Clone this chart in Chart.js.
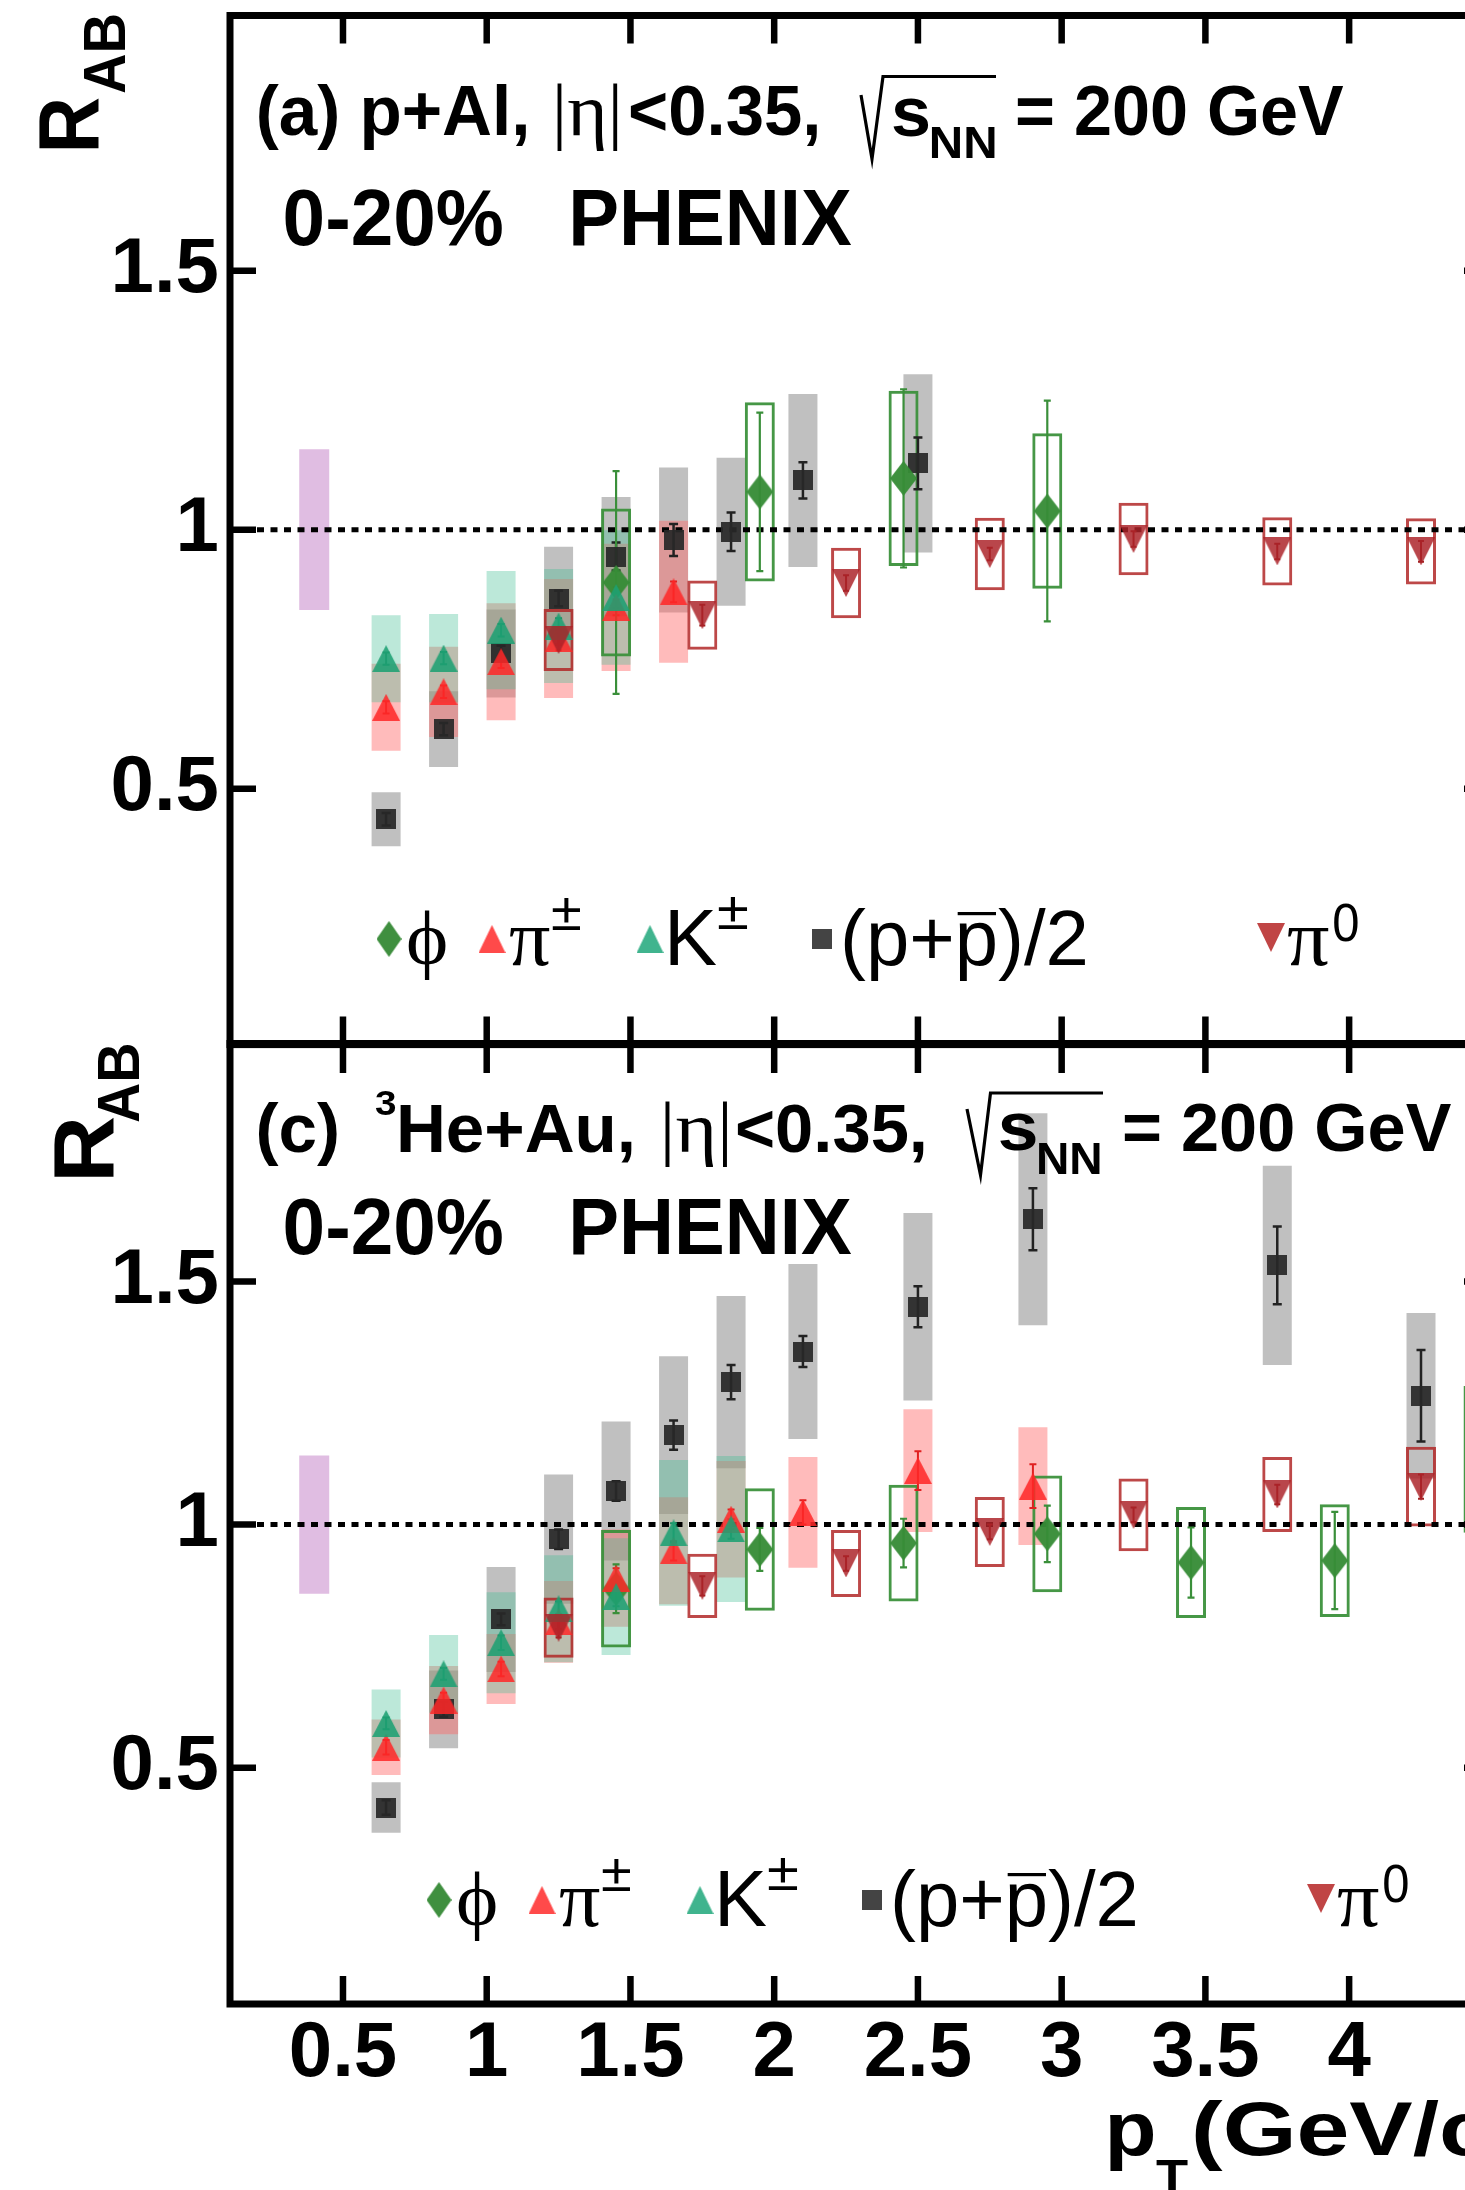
<!DOCTYPE html>
<html><head><meta charset="utf-8">
<script src="https://cdn.jsdelivr.net/npm/chart.js@4.4.1/dist/chart.umd.min.js"></script>
<style>
html,body{margin:0;padding:0;background:#fff;overflow:hidden;}
#wrap{position:relative;width:1465px;height:2190px;overflow:hidden;background:#fff;}
canvas{position:absolute;left:0;}
#c1{top:0;} #c2{top:1040px;}
</style></head><body>
<div id="wrap"><canvas id="c1" width="1500" height="1050"></canvas><canvas id="c2" width="1500" height="1150"></canvas></div>
<script>
// ---------- axis ticks ----------
const xTicks = [0.5, 1, 1.5, 2, 2.5, 3, 3.5, 4];
const xTickLabels = ['0.5', '1', '1.5', '2', '2.5', '3', '3.5', '4'];
const yTicks = [0.5, 1, 1.5];
const yTickLabels = ['0.5', '1', '1.5'];

// ---------- panel (a) p+Al ----------
const normA_x = [0.4];
const normA_y = [1.0];
const normA_sys = [0.155];

const phiA_x = [1.45, 1.95, 2.45, 2.95];
const phiA_y = [0.898, 1.073, 1.099, 1.036];
const phiA_stat = [0.215, 0.153, 0.172, 0.213];
const phiA_sys = [0.143, 0.173, 0.169, 0.15];

const pipmA_x = [0.65, 0.85, 1.05, 1.25, 1.45, 1.65];
const pipmA_y = [0.657, 0.687, 0.745, 0.79, 0.85, 0.88];
const pipmA_stat = [0.012, 0.012, 0.012, 0.012, 0.015, 0.02];
const pipmA_sys = [0.084, 0.087, 0.113, 0.115, 0.123, 0.137];

const kA_x = [0.65, 0.85, 1.05, 1.25, 1.45];
const kA_y = [0.751, 0.752, 0.806, 0.814, 0.869];
const kA_stat = [0.012, 0.012, 0.012, 0.015, 0.02];
const kA_sys = [0.084, 0.085, 0.114, 0.11, 0.13];

const pA_x = [0.65, 0.85, 1.05, 1.25, 1.45, 1.65, 1.85, 2.1, 2.5];
const pA_y = [0.441, 0.615, 0.761, 0.867, 0.948, 0.98, 0.996, 1.095, 1.128];
const pA_stat = [0.012, 0.012, 0.015, 0.015, 0.027, 0.031, 0.037, 0.035, 0.05];
const pA_sys = [0.052, 0.073, 0.085, 0.10, 0.115, 0.14, 0.143, 0.167, 0.172];

const pi0A_x = [1.25, 1.75, 2.25, 2.75, 3.25, 3.75, 4.25];
const pi0A_y = [0.787, 0.835, 0.897, 0.953, 0.982, 0.958, 0.958];
const pi0A_stat = [0.02, 0.02, 0.015, 0.012, 0.015, 0.015, 0.02];
const pi0A_sys = [0.06, 0.067, 0.068, 0.07, 0.07, 0.066, 0.064];

// ---------- panel (c) 3He+Au ----------
const normC_x = [0.4];
const normC_y = [1.0];
const normC_sys = [0.142];

const phiC_x = [1.45, 1.95, 2.45, 2.95, 3.45, 3.95, 4.45];
const phiC_y = [0.868, 0.949, 0.962, 0.981, 0.922, 0.926, 1.134];
const phiC_stat = [0.05, 0.044, 0.05, 0.058, 0.072, 0.1, 0.12];
const phiC_sys = [0.121, 0.126, 0.12, 0.12, 0.114, 0.116, 0.151];

const pipmC_x = [0.65, 0.85, 1.05, 1.25, 1.45, 1.65, 1.85, 2.1, 2.5, 2.9];
const pipmC_y = [0.542, 0.639, 0.703, 0.80, 0.89, 0.946, 1.011, 1.025, 1.111, 1.079];
const pipmC_stat = [0.015, 0.015, 0.015, 0.015, 0.02, 0.02, 0.02, 0.025, 0.04, 0.045];
const pipmC_sys = [0.057, 0.07, 0.072, 0.084, 0.1, 0.11, 0.12, 0.114, 0.126, 0.121];

const kC_x = [0.65, 0.85, 1.05, 1.25, 1.45, 1.65, 1.85];
const kC_y = [0.591, 0.693, 0.757, 0.827, 0.852, 0.983, 0.991];
const kC_stat = [0.012, 0.012, 0.015, 0.015, 0.02, 0.02, 0.02];
const kC_sys = [0.07, 0.08, 0.104, 0.11, 0.12, 0.15, 0.15];

const pC_x = [0.65, 0.85, 1.05, 1.25, 1.45, 1.65, 1.85, 2.1, 2.5, 2.9, 3.75, 4.25];
const pC_y = [0.418, 0.62, 0.805, 0.97, 1.069, 1.184, 1.293, 1.356, 1.448, 1.628, 1.533, 1.265];
const pC_stat = [0.015, 0.015, 0.012, 0.02, 0.02, 0.03, 0.035, 0.032, 0.042, 0.064, 0.08, 0.094];
const pC_sys = [0.052, 0.08, 0.108, 0.133, 0.143, 0.162, 0.177, 0.18, 0.193, 0.218, 0.205, 0.17];

const pi0C_x = [1.25, 1.75, 2.25, 2.75, 3.25, 3.75, 4.25];
const pi0C_y = [0.788, 0.874, 0.92, 0.985, 1.02, 1.062, 1.078];
const pi0C_stat = [0.02, 0.02, 0.015, 0.015, 0.015, 0.02, 0.025];
const pi0C_sys = [0.062, 0.066, 0.069, 0.072, 0.075, 0.077, 0.082];

// ---------- styles ----------
const SANS = "'Liberation Sans', Arial, Helvetica, sans-serif";
const SERIF = "'Liberation Serif', 'DejaVu Serif', 'Times New Roman', serif";
const COL = {
  norm: '#e0bde2',
  pBox: 'rgba(135,135,135,0.52)',
  pipmBox: 'rgba(255,105,105,0.45)',
  kBox: 'rgba(70,190,150,0.36)',
  pi0Box: 'rgba(178,40,40,0.85)',
  phiBox: 'rgba(60,145,60,0.95)',
  p: 'rgba(40,40,40,0.93)',
  phi: 'rgba(55,140,55,0.96)',
  pipm: 'rgba(255,40,40,0.86)',
  k: 'rgba(30,160,115,0.88)',
  pi0: 'rgba(172,35,40,0.84)'
};

function mk(w, h, color, path) {
  const c = document.createElement('canvas'); c.width = w; c.height = h;
  const g = c.getContext('2d'); g.fillStyle = color; g.beginPath(); path(g, w, h); g.closePath(); g.fill();
  return c;
}
const diamondPath = (g, w, h) => { g.moveTo(w / 2, 0); g.lineTo(w, h / 2); g.lineTo(w / 2, h); g.lineTo(0, h / 2); };
const upPath = (g, w, h) => { g.moveTo(w / 2, 0); g.lineTo(w, h); g.lineTo(0, h); };
const downPath = (g, w, h) => { g.moveTo(0, 0); g.lineTo(w, 0); g.lineTo(w / 2, h); };
const sqPath = (g, w, h) => { g.rect(0, 0, w, h); };

const IMG = {
  phi: mk(27, 35, COL.phi, diamondPath),
  pipm: mk(28, 27, COL.pipm, upPath),
  k: mk(28, 27, COL.k, upPath),
  pi0: mk(28, 28, COL.pi0, downPath),
  p: mk(20, 20, COL.p, sqPath)
};
const LEG = {
  phi: mk(25, 36, '#3f8f3f', diamondPath),
  pipm: mk(27, 28, '#ff4a4a', upPath),
  k: mk(27, 28, '#40b48e', upPath),
  pi0: mk(28, 29, '#c04545', downPath),
  p: mk(20, 20, '#444444', sqPath)
};

const boxes = (xs, ys, s) => xs.map((x, i) => ({ x: x, y: [ys[i] - s[i], ys[i] + s[i]] }));
const pts = (xs, ys) => xs.map((x, i) => ({ x: x, y: ys[i] }));

function fillBox(data, color, order, thick) {
  return { type: 'bar', data: data, backgroundColor: color, borderWidth: 0, barThickness: thick || 29, grouped: false, order: order, inflateAmount: 0 };
}
function openBox(data, color, order) {
  return { type: 'bar', data: data, backgroundColor: 'rgba(0,0,0,0)', borderColor: color, borderWidth: 3, borderSkipped: false, barThickness: 30, grouped: false, order: order, inflateAmount: 0 };
}
function marks(data, img, order, extra) {
  return Object.assign({ type: 'scatter', data: data, pointStyle: img, pointRadius: 10, pointHoverRadius: 10, showLine: false, order: order }, extra || {});
}

// ---------- text helpers ----------
function fitH(ctx, txt, font, x0, x1, base, color) {
  ctx.save(); ctx.font = font; ctx.fillStyle = color || '#000';
  ctx.textAlign = 'left'; ctx.textBaseline = 'alphabetic';
  const m = ctx.measureText(txt);
  const ink = m.actualBoundingBoxLeft + m.actualBoundingBoxRight;
  const sx = (x1 - x0) / ink;
  const ox = x0 + m.actualBoundingBoxLeft * sx;
  ctx.translate(ox, base); ctx.scale(sx, 1); ctx.fillText(txt, 0, 0); ctx.restore();
  return { sx: sx, ox: ox };
}
function scaledText(ctx, txt, font, x0, base, sx) {
  ctx.save(); ctx.font = font; ctx.fillStyle = '#000'; ctx.textAlign = 'left'; ctx.textBaseline = 'alphabetic';
  ctx.translate(x0, base); ctx.scale(sx, 1); ctx.fillText(txt, 0, 0); ctx.restore();
}
function fitV(ctx, txt, font, yBottom, yTop, baseX) {
  ctx.save(); ctx.font = font; ctx.fillStyle = '#000'; ctx.textAlign = 'left'; ctx.textBaseline = 'alphabetic';
  const m = ctx.measureText(txt);
  const ink = m.actualBoundingBoxLeft + m.actualBoundingBoxRight;
  const sx = (yBottom - yTop) / ink;
  ctx.translate(baseX, yBottom); ctx.rotate(-Math.PI / 2);
  ctx.translate(m.actualBoundingBoxLeft * sx, 0); ctx.scale(sx, 1); ctx.fillText(txt, 0, 0); ctx.restore();
}
function poly(ctx, ptsArr, lw) {
  ctx.save(); ctx.strokeStyle = '#000'; ctx.lineWidth = lw; ctx.lineJoin = 'miter';
  ctx.beginPath(); ptsArr.forEach((p, i) => i ? ctx.lineTo(p[0], p[1]) : ctx.moveTo(p[0], p[1])); ctx.stroke(); ctx.restore();
}

function drawLegend(ctx, dx, dy) {
  const img = (im, x, y) => ctx.drawImage(im, x + dx - im.width / 2, y + dy - im.height / 2);
  img(LEG.phi, 389, 939);
  fitH(ctx, '\u03D5', '76px ' + SERIF, 408 + dx, 446 + dx, 964 + dy);
  img(LEG.pipm, 492, 939);
  fitH(ctx, '\u03C0', '80px ' + SERIF, 510 + dx, 550 + dx, 965 + dy);
  fitH(ctx, '\u00B1', '54px ' + SANS, 552 + dx, 580 + dx, 930 + dy);
  img(LEG.k, 650, 939);
  fitH(ctx, 'K', '80px ' + SANS, 670 + dx, 716.7 + dx, 965 + dy);
  fitH(ctx, '\u00B1', '54px ' + SANS, 718 + dx, 747 + dx, 929 + dy);
  img(LEG.p, 822, 938.5);
  const r = fitH(ctx, '(p+p)/2', '77px ' + SANS, 844 + dx, 1085 + dx, 965 + dy);
  ctx.save(); ctx.font = '77px ' + SANS;
  const w1 = ctx.measureText('(p+').width * r.sx, wp = ctx.measureText('p').width * r.sx;
  ctx.fillStyle = '#000'; ctx.fillRect(r.ox + w1 + 3, 912 + dy, wp - 5, 3.2); ctx.restore();
  img(LEG.pi0, 1271, 937.5);
  fitH(ctx, '\u03C0', '80px ' + SERIF, 1288 + dx, 1329 + dx, 965 + dy);
  fitH(ctx, '0', '54px ' + SANS, 1334 + dx, 1357.6 + dx, 941 + dy);
}

// ---------- plugins ----------
function makePlugins(P) {
  return [{
    id: 'errs_' + P.id,
    beforeDatasetDraw(chart, args) {
      const ds = chart.data.datasets[args.index];
      if (!ds.errFirst) return;
      const ctx = chart.ctx, a = chart.chartArea, X = chart.scales.x, Y = chart.scales.y;
      ctx.save();
      ctx.beginPath(); ctx.rect(a.left, a.top, a.right - a.left, a.bottom - a.top); ctx.clip();
      // reference line at R_AB = 1
      const py = Y.getPixelForValue(1);
      ctx.setLineDash([7, 6.5]); ctx.lineWidth = 5; ctx.strokeStyle = '#000';
      ctx.beginPath(); ctx.moveTo(a.left, py); ctx.lineTo(a.right, py); ctx.stroke();
      ctx.setLineDash([]);
      P.errs.forEach(s => {
        ctx.strokeStyle = s.color; ctx.lineWidth = s.lw;
        s.x.forEach((xv, i) => {
          const px = X.getPixelForValue(xv);
          const y0 = Y.getPixelForValue(s.y[i] - s.e[i]), y1 = Y.getPixelForValue(s.y[i] + s.e[i]);
          ctx.beginPath();
          ctx.moveTo(px, y0); ctx.lineTo(px, y1);
          ctx.moveTo(px - s.cap / 2, y0); ctx.lineTo(px + s.cap / 2, y0);
          ctx.moveTo(px - s.cap / 2, y1); ctx.lineTo(px + s.cap / 2, y1);
          ctx.stroke();
        });
      });
      ctx.restore();
    },
    afterDraw(chart) {
      const ctx = chart.ctx, a = chart.chartArea, X = chart.scales.x, Y = chart.scales.y;
      ctx.save();
      ctx.strokeStyle = '#000'; ctx.lineWidth = 7;
      ctx.strokeRect(a.left, a.top, a.right - a.left, a.bottom - a.top);
      ctx.lineWidth = 6.5; ctx.beginPath();
      xTicks.forEach(v => {
        const px = X.getPixelForValue(v);
        ctx.moveTo(px, a.bottom); ctx.lineTo(px, a.bottom - 28);
        ctx.moveTo(px, a.top); ctx.lineTo(px, a.top + P.topTick);
      });
      yTicks.forEach(v => {
        const py = Y.getPixelForValue(v);
        ctx.moveTo(a.left, py); ctx.lineTo(a.left + 26, py);
        ctx.moveTo(a.right, py); ctx.lineTo(a.right - 26, py);
      });
      ctx.stroke();
      ctx.restore();
      ctx.save(); ctx.translate(0, -P.offY);
      P.text(ctx);
      ctx.restore();
    }
  }];
}

function noPad(s) { s.paddingTop = 0; s.paddingBottom = 0; s.paddingLeft = 0; s.paddingRight = 0; }

function makeChart(id, P) {
  const datasets = [
    fillBox(boxes(P.norm.x, P.norm.y, P.norm.sys), COL.norm, 20, 30),
    fillBox(boxes(P.p.x, P.p.y, P.p.sys), COL.pBox, 16),
    fillBox(boxes(P.pipm.x, P.pipm.y, P.pipm.sys), COL.pipmBox, 15),
    fillBox(boxes(P.k.x, P.k.y, P.k.sys), COL.kBox, 14),
    openBox(boxes(P.pi0.x, P.pi0.y, P.pi0.sys), COL.pi0Box, 12),
    openBox(boxes(P.phi.x, P.phi.y, P.phi.sys), COL.phiBox, 11),
    marks(pts(P.p.x, P.p.y), IMG.p, 6, { errFirst: true }),
    marks(pts(P.phi.x, P.phi.y), IMG.phi, 5),
    marks(pts(P.pipm.x, P.pipm.y), IMG.pipm, 4),
    marks(pts(P.k.x, P.k.y), IMG.k, 3),
    marks(pts(P.pi0.x, P.pi0.y), IMG.pi0, 1)
  ];
  P.errs = [
    { x: P.pipm.x, y: P.pipm.y, e: P.pipm.stat, color: '#e02020', lw: 2, cap: 7 },
    { x: P.k.x, y: P.k.y, e: P.k.stat, color: '#1a8a60', lw: 2, cap: 7 },
    { x: P.p.x, y: P.p.y, e: P.p.stat, color: '#222', lw: 2.5, cap: 9 },
    { x: P.phi.x, y: P.phi.y, e: P.phi.stat, color: '#3a8f3a', lw: 2.2, cap: 7 },
    { x: P.pi0.x, y: P.pi0.y, e: P.pi0.stat, color: '#a02020', lw: 2, cap: 6 }
  ];
  const tickFont = { family: SANS, size: 78, weight: 'bold' };
  return new Chart(document.getElementById(id), {
    type: 'scatter',
    data: { datasets: datasets },
    options: {
      responsive: false, animation: false, events: [],
      layout: { autoPadding: false, padding: { left: 0, right: 10, top: P.padTop, bottom: 0 } },
      plugins: { legend: { display: false }, tooltip: { enabled: false } },
      scales: {
        x: {
          type: 'linear', min: 0.107, max: 4.49, offset: false,
          grid: { display: false, drawTicks: false, offset: false }, border: { display: false },
          afterBuildTicks: s => { s.ticks = xTicks.map(v => ({ value: v })); },
          ticks: { display: P.showX, font: tickFont, color: '#000', padding: 4, maxRotation: 0, autoSkip: false,
                   callback: (v, i) => xTickLabels[i] },
          afterFit: s => { s.height = P.xAxisH; noPad(s); }
        },
        y: {
          type: 'linear', min: P.ymin, max: P.ymax,
          grid: { display: false, drawTicks: false }, border: { display: false },
          afterBuildTicks: s => { s.ticks = yTicks.map(v => ({ value: v })); },
          ticks: { font: tickFont, color: '#000', padding: 11, autoSkip: false, callback: (v, i) => yTickLabels[i] },
          afterFit: s => { s.width = 230; noPad(s); }
        }
      }
    },
    plugins: makePlugins(P)
  });
}

// ---------- panel texts ----------
function textA(ctx) {
  fitV(ctx, 'R', 'bold 86px ' + SANS, 149, 98, 98);
  fitV(ctx, 'AB', 'bold 59px ' + SANS, 93, 15.5, 125);
  fitH(ctx, '(a) p+Al,', 'bold 70px ' + SANS, 258.6, 526, 135);
  fitH(ctx, '|\u03B7|', '74px ' + SERIF, 557, 618, 135);
  fitH(ctx, '<0.35,', 'bold 70px ' + SANS, 630, 817, 135);
  poly(ctx, [[861, 95], [872, 159], [883, 76.5], [996, 76.5]], 3.2);
  fitH(ctx, 's', 'bold 70px ' + SANS, 893, 929, 136);
  fitH(ctx, 'NN', 'bold 45px ' + SANS, 932, 995, 158);
  fitH(ctx, '= 200 GeV', 'bold 70px ' + SANS, 1017, 1344, 135);
  fitH(ctx, '0-20%', 'bold 79px ' + SANS, 285.5, 502.6, 244.5);
  fitH(ctx, 'PHENIX', 'bold 79px ' + SANS, 573, 851, 244.5);
  drawLegend(ctx, 0, 0);
}
function textC(ctx) {
  fitV(ctx, 'R', 'bold 86px ' + SANS, 1177.5, 1117, 113);
  fitV(ctx, 'AB', 'bold 59px ' + SANS, 1122, 1045, 139);
  fitH(ctx, '(c)', 'bold 68px ' + SANS, 258.6, 337.4, 1152);
  fitH(ctx, '3', 'bold 35px ' + SANS, 375, 396, 1115);
  fitH(ctx, 'He+Au,', 'bold 68px ' + SANS, 400, 632, 1152);
  fitH(ctx, '|\u03B7|', '72px ' + SERIF, 665, 727, 1152);
  fitH(ctx, '<0.35,', 'bold 68px ' + SANS, 737, 924, 1152);
  poly(ctx, [[967, 1109], [980.5, 1175], [990.5, 1093], [1103, 1093]], 3.2);
  fitH(ctx, 's', 'bold 68px ' + SANS, 1000, 1036.6, 1150);
  fitH(ctx, 'NN', 'bold 45px ' + SANS, 1039, 1100, 1174);
  fitH(ctx, '= 200 GeV', 'bold 68px ' + SANS, 1124, 1451, 1151);
  fitH(ctx, '0-20%', 'bold 79px ' + SANS, 285.5, 502.6, 1254);
  fitH(ctx, 'PHENIX', 'bold 79px ' + SANS, 573, 851, 1254);
  drawLegend(ctx, 50, 961);
  // x axis title
  fitH(ctx, 'p', 'bold 76px ' + SANS, 1110, 1153.7, 2154.6);
  fitH(ctx, 'T', 'bold 46px ' + SANS, 1156, 1188, 2192);
  scaledText(ctx, '(GeV/c)', 'bold 76px ' + SANS, 1191, 2154.6, 1.25);
}

makeChart('c1', {
  id: 'a', offY: 0, padTop: 15.5, xAxisH: 5.4, ymin: 0.006, ymax: 1.9925, showX: false, topTick: 28,
  norm: { x: normA_x, y: normA_y, sys: normA_sys },
  phi: { x: phiA_x, y: phiA_y, stat: phiA_stat, sys: phiA_sys },
  pipm: { x: pipmA_x, y: pipmA_y, stat: pipmA_stat, sys: pipmA_sys },
  k: { x: kA_x, y: kA_y, stat: kA_stat, sys: kA_sys },
  p: { x: pA_x, y: pA_y, stat: pA_stat, sys: pA_sys },
  pi0: { x: pi0A_x, y: pi0A_y, stat: pi0A_stat, sys: pi0A_sys },
  text: textA
});
makeChart('c2', {
  id: 'c', offY: 1040, padTop: 3, xAxisH: 186, ymin: 0.014, ymax: 1.9905, showX: true, topTick: 30,
  norm: { x: normC_x, y: normC_y, sys: normC_sys },
  phi: { x: phiC_x, y: phiC_y, stat: phiC_stat, sys: phiC_sys },
  pipm: { x: pipmC_x, y: pipmC_y, stat: pipmC_stat, sys: pipmC_sys },
  k: { x: kC_x, y: kC_y, stat: kC_stat, sys: kC_sys },
  p: { x: pC_x, y: pC_y, stat: pC_stat, sys: pC_sys },
  pi0: { x: pi0C_x, y: pi0C_y, stat: pi0C_stat, sys: pi0C_sys },
  text: textC
});
</script>
</body></html>
